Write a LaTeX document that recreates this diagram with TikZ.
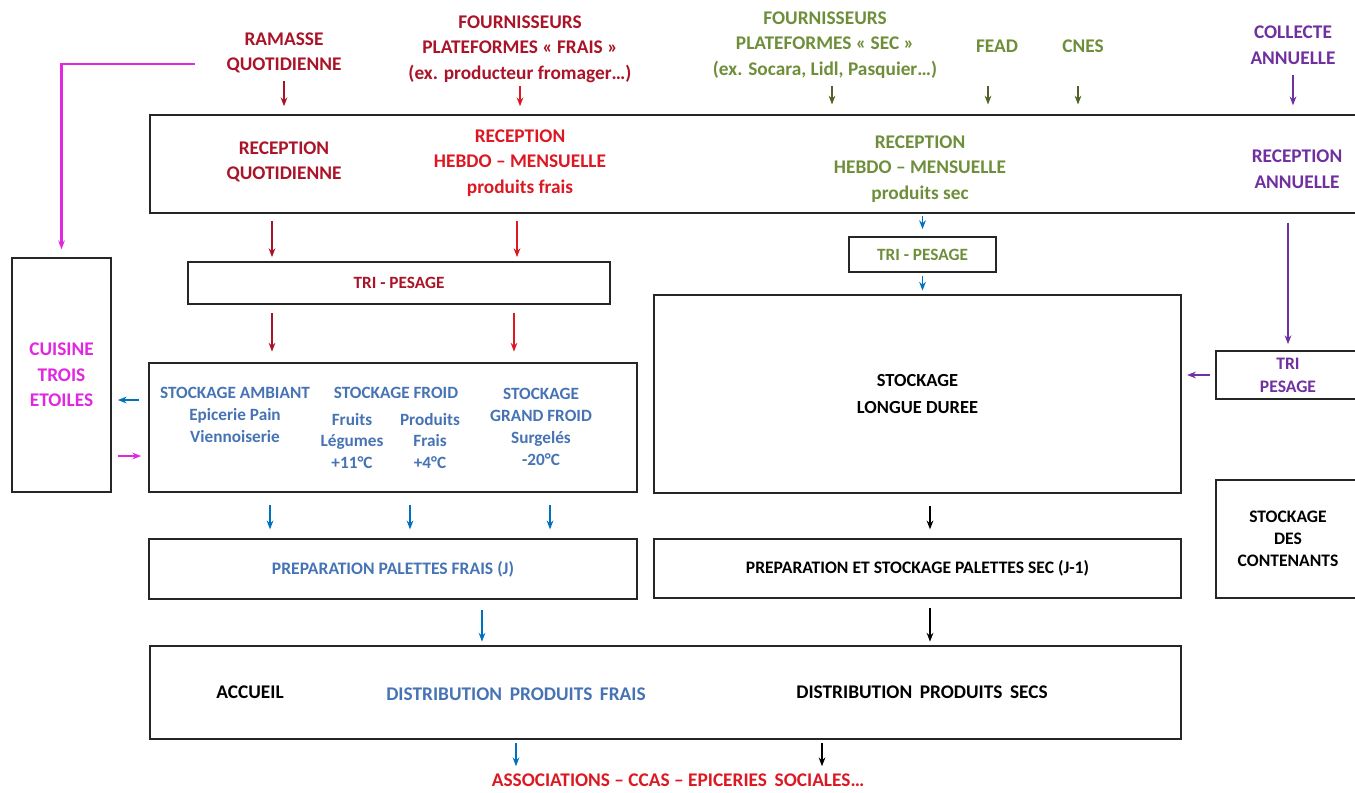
\documentclass[tikz,border=0pt]{standalone}
\usepackage{fontspec}
\setmainfont{Carlito}
\usetikzlibrary{arrows.meta}

\definecolor{rougesombre}{RGB}{170,20,40}
\definecolor{rougevif}{RGB}{220,25,35}
\definecolor{vertolive}{RGB}{110,142,58}
\definecolor{vertfonce}{RGB}{79,98,40}
\definecolor{violet}{RGB}{112,48,160}
\definecolor{bleutexte}{RGB}{70,115,180}
\definecolor{bleufleche}{RGB}{0,112,192}
\definecolor{rose}{RGB}{225,40,225}

\begin{document}
\begin{tikzpicture}[x=0.02cm, y=-0.02cm,
    boite/.style={draw=black!85, line width=1pt, inner sep=0pt, align=center},
    titre/.style={align=center, inner sep=1pt, font=\fontsize{11}{14.5}\selectfont\bfseries},
    texte/.style={align=center, inner sep=1pt, font=\fontsize{10}{13}\selectfont\bfseries},
    petit/.style={align=center, inner sep=1pt, font=\fontsize{9.8}{12.5}\selectfont\bfseries},
    fleche/.style={-{Stealth[length=5pt,width=3.8pt]}, line width=0.9pt, shorten <=3pt, shorten >=3pt}]
    \useasboundingbox (0,0) rectangle (1355,792);

    % les arrivages
    \node[titre, rougesombre] (ramasse) at (284,53) {RAMASSE\\QUOTIDIENNE};
    \node[titre, rougesombre] (fraissrc) at (520,49) {FOURNISSEURS\\PLATEFORMES « FRAIS »\\(ex. producteur fromager…)};
    \node[titre, vertolive] (secsrc) at (825,45) {FOURNISSEURS\\PLATEFORMES « SEC »\\(ex. Socara, Lidl, Pasquier…)};
    \node[titre, vertolive] (fead) at (997,46) {FEAD};
    \node[titre, vertolive] (cnes) at (1083,46) {CNES};
    \node[titre, violet] (collecte) at (1293,45) {COLLECTE\\ANNUELLE};

    % reception
    \node[boite, minimum width=24.2cm, minimum height=1.96cm] (recep) at (755,164) {};
    \node[titre, rougesombre] (recquot) at (284,162) {RECEPTION\\QUOTIDIENNE};
    \node[titre, rougevif] (recfrais) at (520,163) {RECEPTION\\HEBDO – MENSUELLE\\produits frais};
    \node[titre, vertolive] (recsec) at (920,169) {RECEPTION\\HEBDO – MENSUELLE\\produits sec};
    \node[titre, violet] (recann) at (1297,169) {RECEPTION\\ANNUELLE};

    % les boites
    \node[boite, titre, text=rose, minimum width=1.98cm, minimum height=4.68cm] (cuisine) at (61.5,375) {CUISINE\\TROIS\\ETOILES};
    \node[boite, petit, text=rougesombre, minimum width=8.44cm, minimum height=0.84cm] (tri1) at (399,283) {TRI - PESAGE};
    \node[boite, petit, text=vertolive, minimum width=2.94cm, minimum height=0.7cm] (tri2) at (922.5,254.5) {TRI - PESAGE};
    \node[boite, texte, text=violet, minimum width=2.88cm, minimum height=0.96cm] (tri3) at (1288,375) {TRI\\PESAGE};
    \node[boite, minimum width=9.76cm, minimum height=2.58cm] (stockfrais) at (393,427.5) {};
    \node[boite, texte, minimum width=10.54cm, minimum height=3.96cm, font=\fontsize{10.5}{15}\selectfont\bfseries] (longue) at (917.5,394) {STOCKAGE\\LONGUE DUREE};
    \node[boite, texte, minimum width=2.88cm, minimum height=2.36cm, font=\fontsize{10}{12.5}\selectfont\bfseries] (contenants) at (1288,539) {STOCKAGE\\DES\\CONTENANTS};
    \node[boite, texte, text=bleutexte, minimum width=9.76cm, minimum height=1.2cm] (prepfrais) at (393,569) {PREPARATION PALETTES FRAIS (J)};
    \node[boite, texte, minimum width=10.54cm, minimum height=1.18cm] (prepsec) at (917.5,568.5) {PREPARATION ET STOCKAGE PALETTES SEC (J-1)};
    \node[boite, minimum width=20.62cm, minimum height=1.86cm] (distrib) at (665.5,692.5) {};

    % contenu du stockage frais
    \node[petit, bleutexte] (ambiant) at (235,415) {STOCKAGE AMBIANT\\Epicerie Pain\\Viennoiserie};
    \node[petit, bleutexte] (froid) at (396,393) {STOCKAGE FROID};
    \node[petit, bleutexte] (fruits) at (352,441) {Fruits\\Légumes\\+11°C};
    \node[petit, bleutexte] (produits) at (430,441) {Produits\\Frais\\+4°C};
    \node[petit, bleutexte] (grandfroid) at (541,427) {STOCKAGE\\GRAND FROID\\Surgelés\\-20°C};

    % distribution
    \node[titre] (accueil) at (250,692) {ACCUEIL};
    \node[titre, bleutexte] (distfrais) at (516,694) {DISTRIBUTION\, PRODUITS\, FRAIS};
    \node[titre] (distsec) at (922,692) {DISTRIBUTION\, PRODUITS\, SECS};
    \node[titre, rougevif] (assoc) at (678,780) {ASSOCIATIONS – CCAS – EPICERIES\, SOCIALES…};

    % fleches des arrivages
    \draw[fleche, rougesombre, shorten >=4.5pt] (ramasse.south) -- (ramasse.south |- recep.north);
    \draw[fleche, rougevif, shorten <=1pt, shorten >=4.5pt] (fraissrc.south) -- (fraissrc.south |- recep.north);
    \foreach \x in {832,988,1078}{
        \draw[fleche, vertfonce, shorten >=5.5pt] (\x,0 |- secsrc.south) -- (\x,0 |- recep.north);
    }
    \draw[fleche, violet, shorten <=5pt, shorten >=5pt] (collecte.south) -- (collecte.south |- recep.north);

    % circuit frais
    \draw[fleche, rougesombre, shorten <=4pt, shorten >=2.3pt] (272,0 |- recep.south) -- (272,0 |- tri1.north);
    \draw[fleche, rougevif, shorten <=4pt, shorten >=2.3pt] (517,0 |- recep.south) -- (517,0 |- tri1.north);
    \draw[fleche, rougesombre, shorten <=4.5pt, shorten >=6pt] (272,0 |- tri1.south) -- (272,0 |- stockfrais.north);
    \draw[fleche, rougevif, shorten <=4.5pt, shorten >=6pt] (514,0 |- tri1.south) -- (514,0 |- stockfrais.north);
    \foreach \x in {270,410,550}{
        \draw[fleche, bleufleche, shorten <=7pt, shorten >=5pt] (\x,0 |- stockfrais.south) -- (\x,0 |- prepfrais.north);
    }
    \draw[fleche, bleufleche, shorten <=6pt, shorten >=2pt] (482,0 |- prepfrais.south) -- (482,0 |- distrib.north);
    \draw[fleche, bleufleche, shorten <=2pt, shorten >=3pt] (516,0 |- distrib.south) -- (516,0 |- assoc.north);

    % cuisine
    \draw[fleche, rose, line width=1.2pt, shorten <=17pt, shorten >=4.5pt] ([yshift=-0.22cm]ramasse.west) -| (cuisine.north);
    \draw[fleche, bleufleche, shorten <=5pt, shorten >=3.4pt] (stockfrais.west |- 0,400) -- (cuisine.east |- 0,400);
    \draw[fleche, rose, shorten <=3.4pt, shorten >=4pt] (cuisine.east |- 0,456) -- (stockfrais.west |- 0,456);

    % circuit sec
    \draw[fleche, bleufleche, shorten <=1pt, shorten >=4pt] (tri2 |- recep.south) -- (tri2.north);
    \draw[fleche, bleufleche, shorten <=1.5pt, shorten >=2pt] (tri2.south) -- (tri2 |- longue.north);
    \draw[fleche, violet, shorten <=5pt, shorten >=3.4pt] (tri3 |- recep.south) -- (tri3.north);
    \draw[fleche, violet] (tri3.west) -- (tri3.west -| longue.east);
    \draw[fleche, black, shorten <=7pt, shorten >=5pt] (930,0 |- longue.south) -- (930,0 |- prepsec.north);
    \draw[fleche, black, shorten <=5pt, shorten >=2pt] (930,0 |- prepsec.south) -- (930,0 |- distrib.north);
    \draw[fleche, black, shorten <=2pt, shorten >=3pt] (822,0 |- distrib.south) -- (822,0 |- assoc.north);
\end{tikzpicture}
\end{document}
